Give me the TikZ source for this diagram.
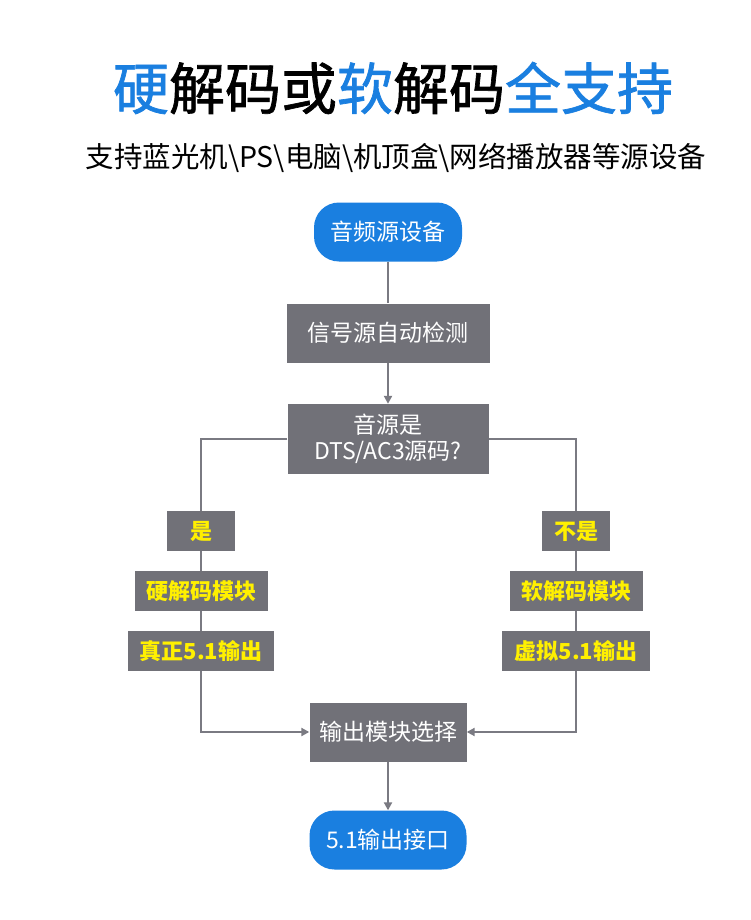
\documentclass[tikz,border=0pt]{standalone}
\usepackage{fontspec}
\setmainfont{Noto Sans CJK SC}
\newfontfamily\headfont[FakeBold=1.2]{Noto Sans CJK SC}
\usetikzlibrary{arrows.meta}

\definecolor{titleblue}{HTML}{1A7FE0}
\definecolor{boxgray}{HTML}{717178}
\definecolor{linegray}{HTML}{7A7A82}
\definecolor{tagyellow}{HTML}{FFF000}

\tikzset{
  >={Triangle[length=8pt,width=8pt]},
  flow/.style={draw=linegray,line width=2pt},
  endbox/.style={fill=titleblue,rounded corners=25pt,text=white,minimum height=59pt,font=\fontsize{23}{26}\selectfont},
  grybox/.style={fill=boxgray,text=white,minimum height=59pt,font=\fontsize{23}{26}\selectfont},
  tagbox/.style={fill=boxgray,text=tagyellow,minimum height=40pt,inner xsep=4pt,font=\fontsize{22}{24}\selectfont\bfseries}
}

\begin{document}
\begin{tikzpicture}[x=1pt,y=-1pt]
  \useasboundingbox[fill=white] (0,0) rectangle (750,920);

  \node (title) at (393,88) {\headfont\fontsize{56}{60}\selectfont
    \textcolor{titleblue}{硬}解码或\textcolor{titleblue}{软}解码\textcolor{titleblue}{全支持}};
  \node (sub) at (396,158) {\fontsize{28.5}{31}\selectfont 支持蓝光机\textbackslash PS\textbackslash 电脑\textbackslash 机顶盒\textbackslash 网络播放器等源设备};

  \node[endbox,minimum width=148pt] (src) at (388,232) {音频源设备};
  \node[grybox,minimum width=203pt] (detect) at (388,333) {信号源自动检测};
  \node[grybox,minimum width=201pt,minimum height=70pt,align=center] (ask) at (388,439) {音源是\\DTS/AC3源码?};

  \node[tagbox,minimum width=68pt] (yes) at (201,531) {是};
  \node[tagbox,minimum width=68pt] (no) at (576,531) {不是};
  \node[tagbox,minimum width=133pt] (hard) at (201,591) {硬解码模块};
  \node[tagbox,minimum width=146pt] (real) at (201,651) {真正5.1输出};
  \node[tagbox,minimum width=133pt] (soft) at (576,591) {软解码模块};
  \node[tagbox,minimum width=148pt] (virt) at (576,651) {虚拟5.1输出};

  \node[grybox,minimum width=157pt] (sel) at (388,732) {输出模块选择};
  \node[endbox,minimum width=157pt] (out) at (388,840) {5.1输出接口};

  \draw[flow] (src) -- (detect);
  \draw[flow,->] (detect) -- (ask);
  \draw[flow] (ask.west) -| (yes.north);
  \draw[flow] (ask.east) -| (no.north);
  \draw[flow] (yes) -- (hard);
  \draw[flow] (hard) -- (real);
  \draw[flow] (no) -- (soft);
  \draw[flow] (soft) -- (virt);
  \draw[flow,->] (real.south) |- (sel.west);
  \draw[flow,->] (virt.south) |- (sel.east);
  \draw[flow,->] (sel) -- (out);
\end{tikzpicture}
\end{document}
